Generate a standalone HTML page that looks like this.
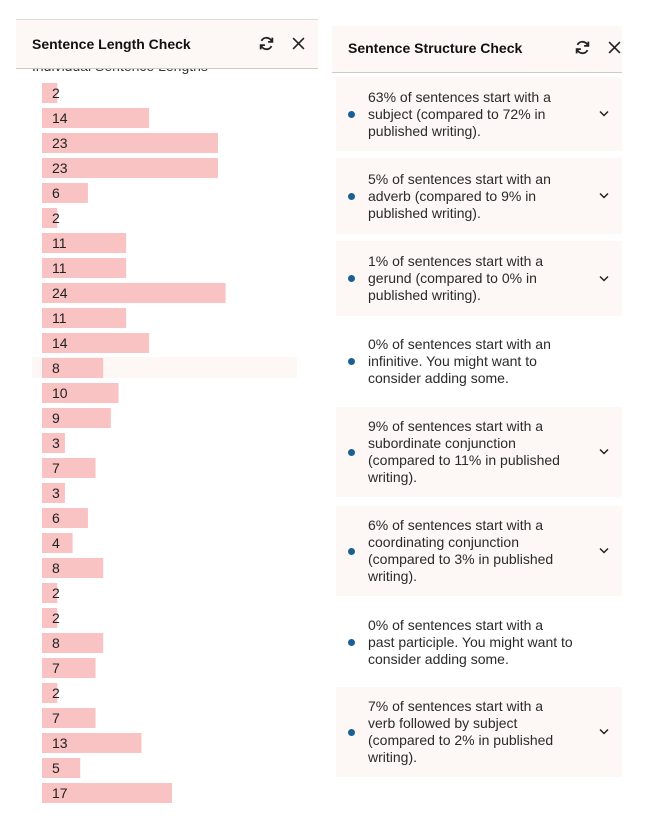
<!DOCTYPE html>
<html><head><meta charset="utf-8">
<style>
body{margin:0;width:646px;height:823px;background:#fff;position:relative;overflow:hidden;font-family:"Liberation Sans",sans-serif;color:#222}
.abs{position:absolute}
.hdr{background:#fdf8f5;box-sizing:border-box;font-weight:bold;font-size:14px;color:#111}
.icon{position:absolute}
.card{position:absolute;left:336px;width:286px;box-sizing:border-box;display:flex;align-items:center;font-size:14px;line-height:17px;color:#2a2a2a}
.card.bg{background:#fdf8f5}
.dot{position:absolute;left:12px;width:7px;height:7px;border-radius:50%;background:#1a5f96}
.txt{position:absolute;left:32px;width:205px}
.chev{position:absolute;left:263px;top:50%;margin-top:-4px}
</style></head><body>
<div class="abs" style="left:32px;top:58px;font-size:14px;color:#333">Individual Sentence Lengths</div>
<div class="abs hdr" style="left:16px;top:19px;width:302px;height:50px;border-top:1px solid #ddd;border-bottom:1px solid #ccc;z-index:2">
  <span class="abs" style="left:16px;top:16px">Sentence Length Check</span>
  <svg class="icon" style="left:242px;top:15px" width="17" height="17" viewBox="0 0 16 16" fill="none" stroke="#222" stroke-width="1.7"><path d="M13 6.5A5.2 5.2 0 0 0 3.3 5.5M3 9.5a5.2 5.2 0 0 0 9.7 1"/><path d="M13.5 2.5v4h-4M2.5 13.5v-4h4"/></svg>
  <svg class="icon" style="left:276px;top:17px" width="13" height="13" viewBox="0 0 12 12" stroke="#222" stroke-width="1.5"><path d="M1 1L11 11M11 1L1 11"/></svg>
</div>
<div class="abs" style="left:32px;top:357px;width:265px;height:21px;background:#fdf8f5"></div>
<svg class="abs" id="bars" style="left:0;top:0" width="320" height="823"></svg>
<script>
const lengths=[2,14,23,23,6,2,11,11,24,11,14,8,10,9,3,7,3,6,4,8,2,2,8,7,2,7,13,5,17];
const x0=42,scale=7.65,y0=83,pitch=25,bh=20;
function xw(v){return v*scale}
function yr(i){return y0+i*pitch}
const svg=document.getElementById('bars');
const NS='http://www.w3.org/2000/svg';
lengths.forEach((v,i)=>{
  const r=document.createElementNS(NS,'rect');
  r.setAttribute('x',x0);r.setAttribute('y',yr(i));r.setAttribute('width',xw(v));r.setAttribute('height',bh);r.setAttribute('fill','#f9c2c3');
  
  
  svg.appendChild(r);
  const t=document.createElementNS(NS,'text');
  t.setAttribute('x',52);t.setAttribute('y',yr(i)+15);t.setAttribute('font-size','14');t.setAttribute('fill','#222');t.setAttribute('font-family','Liberation Sans, sans-serif');
  t.textContent=v;
  
  
  svg.appendChild(t);
});
</script>
<div class="abs hdr" style="left:332px;top:26px;width:290px;height:47px;border-bottom:1px solid #ccc">
  <span class="abs" style="left:16px;top:14px">Sentence Structure Check</span>
  <svg class="icon" style="left:242px;top:13px" width="17" height="17" viewBox="0 0 16 16" fill="none" stroke="#222" stroke-width="1.7"><path d="M13 6.5A5.2 5.2 0 0 0 3.3 5.5M3 9.5a5.2 5.2 0 0 0 9.7 1"/><path d="M13.5 2.5v4h-4M2.5 13.5v-4h4"/></svg>
  <svg class="icon" style="left:276px;top:15px" width="13" height="13" viewBox="0 0 12 12" stroke="#222" stroke-width="1.5"><path d="M1 1L11 11M11 1L1 11"/></svg>
</div>
<div class="card bg" style="top:77px;height:74px"><span class="dot"></span><span class="txt">63% of sentences start with a subject (compared to 72% in published writing).</span><svg class="chev" width="10" height="7" viewBox="0 0 10 7" fill="none" stroke="#222" stroke-width="1.5"><path d="M1 1.5l4 4 4-4"/></svg></div>
<div class="card bg" style="top:158px;height:76px"><span class="dot"></span><span class="txt">5% of sentences start with an adverb (compared to 9% in published writing).</span><svg class="chev" width="10" height="7" viewBox="0 0 10 7" fill="none" stroke="#222" stroke-width="1.5"><path d="M1 1.5l4 4 4-4"/></svg></div>
<div class="card bg" style="top:241px;height:75px"><span class="dot"></span><span class="txt">1% of sentences start with a gerund (compared to 0% in published writing).</span><svg class="chev" width="10" height="7" viewBox="0 0 10 7" fill="none" stroke="#222" stroke-width="1.5"><path d="M1 1.5l4 4 4-4"/></svg></div>
<div class="card" style="top:324px;height:74px"><span class="dot"></span><span class="txt">0% of sentences start with an infinitive. You might want to consider adding some.</span></div>
<div class="card bg" style="top:407px;height:90px"><span class="dot"></span><span class="txt">9% of sentences start with a subordinate conjunction (compared to 11% in published writing).</span><svg class="chev" width="10" height="7" viewBox="0 0 10 7" fill="none" stroke="#222" stroke-width="1.5"><path d="M1 1.5l4 4 4-4"/></svg></div>
<div class="card bg" style="top:506px;height:90px"><span class="dot"></span><span class="txt">6% of sentences start with a coordinating conjunction (compared to 3% in published writing).</span><svg class="chev" width="10" height="7" viewBox="0 0 10 7" fill="none" stroke="#222" stroke-width="1.5"><path d="M1 1.5l4 4 4-4"/></svg></div>
<div class="card" style="top:605px;height:75px"><span class="dot"></span><span class="txt">0% of sentences start with a past participle. You might want to consider adding some.</span></div>
<div class="card bg" style="top:687px;height:90px"><span class="dot"></span><span class="txt">7% of sentences start with a verb followed by subject (compared to 2% in published writing).</span><svg class="chev" width="10" height="7" viewBox="0 0 10 7" fill="none" stroke="#222" stroke-width="1.5"><path d="M1 1.5l4 4 4-4"/></svg></div>
</body></html>
